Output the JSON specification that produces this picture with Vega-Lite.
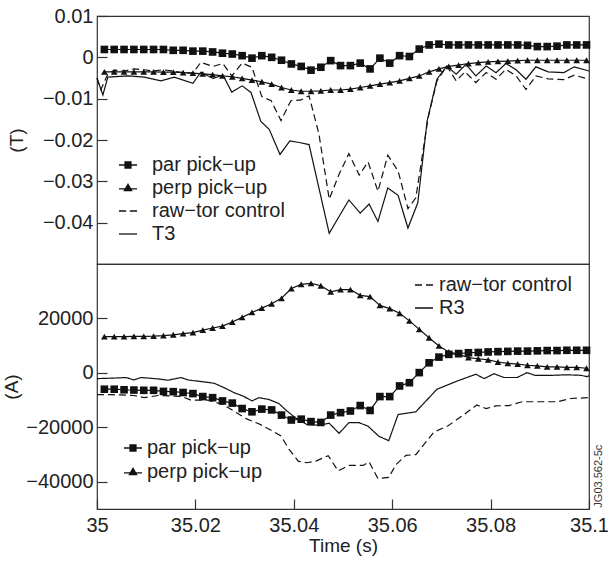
{
"$schema": "https://vega.github.io/schema/vega-lite/v6.json",
"autosize": {"type": "pad"},
"padding": {"left": 2, "top": 5, "right": 2, "bottom": 5},
"background": "white",
"spacing": 0,
"bounds": "flush",
"config": {
 "font": "Liberation Sans",
 "view": {"stroke": "#333", "strokeWidth": 1.2},
 "axis": {"domain": false, "grid": false, "tickSize": -10, "tickColor": "#333", "tickWidth": 1.2, "labelFont": "Liberation Sans", "labelFontSize": 20, "labelColor": "#222", "titleFont": "Liberation Sans", "titleFontSize": 19, "titleFontWeight": "normal", "titleColor": "#222", "labelPadding": 14, "labelFlush": false, "labelOverlap": false},
 "legend": {"labelFont": "Liberation Sans", "labelFontSize": 20, "labelColor": "#222", "symbolSize": 324, "rowPadding": 3, "labelOffset": 14, "padding": 0, "symbolStrokeWidth": 1.3, "symbolStrokeColor": "#111", "symbolOpacity": 1, "title": null}
},
"datasets": {
 "top": [
  {"s":"P","t":35.0015,"v":0.0019},{"s":"P","t":35.0035,"v":0.0019},{"s":"P","t":35.0055,"v":0.0019},{"s":"P","t":35.0075,"v":0.0019},{"s":"P","t":35.0095,"v":0.0019},{"s":"P","t":35.0115,"v":0.0019},{"s":"P","t":35.0135,"v":0.0019},{"s":"P","t":35.0155,"v":0.0017},{"s":"P","t":35.0175,"v":0.0017},{"s":"P","t":35.0195,"v":0.0015},
  {"s":"P","t":35.0215,"v":0.0015},{"s":"P","t":35.0235,"v":0.0013},{"s":"P","t":35.0255,"v":0.001},{"s":"P","t":35.0275,"v":0.0008},{"s":"P","t":35.0295,"v":0.0004},{"s":"P","t":35.0315,"v":-0.0002},{"s":"P","t":35.0335,"v":0.0004},{"s":"P","t":35.0355,"v":0.0},{"s":"P","t":35.0375,"v":-0.0007},{"s":"P","t":35.0395,"v":-0.0016},
  {"s":"P","t":35.0415,"v":-0.0022},{"s":"P","t":35.0435,"v":-0.0031},{"s":"P","t":35.0455,"v":-0.0024},{"s":"P","t":35.0475,"v":-0.0008},{"s":"P","t":35.0495,"v":-0.002},{"s":"P","t":35.0515,"v":-0.002},{"s":"P","t":35.0535,"v":-0.0014},{"s":"P","t":35.0555,"v":-0.0028},{"s":"P","t":35.0575,"v":-0.0002},{"s":"P","t":35.0595,"v":-0.0014},
  {"s":"P","t":35.0615,"v":0.0004},{"s":"P","t":35.0635,"v":0.0002},{"s":"P","t":35.0655,"v":0.002},{"s":"P","t":35.0675,"v":0.003},{"s":"P","t":35.0695,"v":0.0032},{"s":"P","t":35.0715,"v":0.003},{"s":"P","t":35.0735,"v":0.003},{"s":"P","t":35.0755,"v":0.003},{"s":"P","t":35.0775,"v":0.003},{"s":"P","t":35.0795,"v":0.003},
  {"s":"P","t":35.0815,"v":0.003},{"s":"P","t":35.0835,"v":0.003},{"s":"P","t":35.0855,"v":0.003},{"s":"P","t":35.0875,"v":0.0029},{"s":"P","t":35.0895,"v":0.0026},{"s":"P","t":35.0915,"v":0.0026},{"s":"P","t":35.0935,"v":0.0027},{"s":"P","t":35.0955,"v":0.003},{"s":"P","t":35.0975,"v":0.003},{"s":"P","t":35.0995,"v":0.003},
  {"s":"Q","t":35.0015,"v":-0.0035},{"s":"Q","t":35.0035,"v":-0.0035},{"s":"Q","t":35.0055,"v":-0.0035},{"s":"Q","t":35.0075,"v":-0.0035},{"s":"Q","t":35.0095,"v":-0.0035},{"s":"Q","t":35.0115,"v":-0.0035},{"s":"Q","t":35.0135,"v":-0.0036},{"s":"Q","t":35.0155,"v":-0.0036},{"s":"Q","t":35.0175,"v":-0.0037},{"s":"Q","t":35.0195,"v":-0.0038},
  {"s":"Q","t":35.0215,"v":-0.004},{"s":"Q","t":35.0235,"v":-0.0042},{"s":"Q","t":35.0255,"v":-0.0045},{"s":"Q","t":35.0275,"v":-0.0047},{"s":"Q","t":35.0295,"v":-0.0051},{"s":"Q","t":35.0315,"v":-0.0055},{"s":"Q","t":35.0335,"v":-0.0059},{"s":"Q","t":35.0355,"v":-0.0065},{"s":"Q","t":35.0375,"v":-0.0073},{"s":"Q","t":35.0395,"v":-0.0079},
  {"s":"Q","t":35.0415,"v":-0.0082},{"s":"Q","t":35.0435,"v":-0.0082},{"s":"Q","t":35.0455,"v":-0.0081},{"s":"Q","t":35.0475,"v":-0.0079},{"s":"Q","t":35.0495,"v":-0.0079},{"s":"Q","t":35.0515,"v":-0.0077},{"s":"Q","t":35.0535,"v":-0.0073},{"s":"Q","t":35.0555,"v":-0.0069},{"s":"Q","t":35.0575,"v":-0.0065},{"s":"Q","t":35.0595,"v":-0.0061},
  {"s":"Q","t":35.0615,"v":-0.0057},{"s":"Q","t":35.0635,"v":-0.0051},{"s":"Q","t":35.0655,"v":-0.0045},{"s":"Q","t":35.0675,"v":-0.0035},{"s":"Q","t":35.0695,"v":-0.0028},{"s":"Q","t":35.0715,"v":-0.0022},{"s":"Q","t":35.0735,"v":-0.0019},{"s":"Q","t":35.0755,"v":-0.0015},{"s":"Q","t":35.0775,"v":-0.0013},{"s":"Q","t":35.0795,"v":-0.0011},
  {"s":"Q","t":35.0815,"v":-0.001},{"s":"Q","t":35.0835,"v":-0.0009},{"s":"Q","t":35.0855,"v":-0.0008},{"s":"Q","t":35.0875,"v":-0.0007},{"s":"Q","t":35.0895,"v":-0.0007},{"s":"Q","t":35.0915,"v":-0.0007},{"s":"Q","t":35.0935,"v":-0.0007},{"s":"Q","t":35.0955,"v":-0.0007},{"s":"Q","t":35.0975,"v":-0.0007},{"s":"Q","t":35.0995,"v":-0.0007},
  {"s":"R","t":35.0,"v":-0.005},{"s":"R","t":35.0008,"v":-0.0078},{"s":"R","t":35.0022,"v":-0.004},{"s":"R","t":35.0035,"v":-0.0031},{"s":"R","t":35.0055,"v":-0.0033},{"s":"R","t":35.0075,"v":-0.0028},{"s":"R","t":35.0096,"v":-0.003},{"s":"R","t":35.0114,"v":-0.0033},{"s":"R","t":35.0134,"v":-0.003},{"s":"R","t":35.0154,"v":-0.0033},
  {"s":"R","t":35.0175,"v":-0.0037},{"s":"R","t":35.0195,"v":-0.0038},{"s":"R","t":35.0211,"v":-0.0012},{"s":"R","t":35.0236,"v":-0.0022},{"s":"R","t":35.0256,"v":-0.0015},{"s":"R","t":35.0274,"v":-0.0045},{"s":"R","t":35.0295,"v":-0.0014},{"s":"R","t":35.0315,"v":-0.0024},{"s":"R","t":35.0335,"v":-0.0095},{"s":"R","t":35.0354,"v":-0.0105},
  {"s":"R","t":35.0374,"v":-0.0153},{"s":"R","t":35.0394,"v":-0.0105},{"s":"R","t":35.0415,"v":-0.0103},{"s":"R","t":35.0431,"v":-0.0093},{"s":"R","t":35.0451,"v":-0.0185},{"s":"R","t":35.0472,"v":-0.0343},{"s":"R","t":35.0492,"v":-0.0283},{"s":"R","t":35.0512,"v":-0.0233},{"s":"R","t":35.0533,"v":-0.0285},{"s":"R","t":35.0551,"v":-0.0253},
  {"s":"R","t":35.0571,"v":-0.0324},{"s":"R","t":35.0591,"v":-0.0237},{"s":"R","t":35.0612,"v":-0.0275},{"s":"R","t":35.0632,"v":-0.0366},{"s":"R","t":35.0648,"v":-0.034},{"s":"R","t":35.0673,"v":-0.0146},{"s":"R","t":35.0691,"v":-0.0057},{"s":"R","t":35.0711,"v":-0.0021},{"s":"R","t":35.073,"v":-0.0057},{"s":"R","t":35.0748,"v":-0.0035},
  {"s":"R","t":35.077,"v":-0.0061},{"s":"R","t":35.0791,"v":-0.0037},{"s":"R","t":35.0811,"v":-0.0053},{"s":"R","t":35.0831,"v":-0.0029},{"s":"R","t":35.0852,"v":-0.0045},{"s":"R","t":35.0872,"v":-0.0078},{"s":"R","t":35.0892,"v":-0.0045},{"s":"R","t":35.0917,"v":-0.0052},{"s":"R","t":35.0949,"v":-0.0054},{"s":"R","t":35.097,"v":-0.0043},{"s":"R","t":35.1,"v":-0.0053},
  {"s":"T","t":35.0,"v":-0.0051},{"s":"T","t":35.0012,"v":-0.0091},{"s":"T","t":35.0022,"v":-0.0048},{"s":"T","t":35.0063,"v":-0.0045},{"s":"T","t":35.0096,"v":-0.0048},{"s":"T","t":35.013,"v":-0.0057},{"s":"T","t":35.0157,"v":-0.0048},{"s":"T","t":35.0195,"v":-0.0063},{"s":"T","t":35.0211,"v":-0.0036},{"s":"T","t":35.0236,"v":-0.0051},
  {"s":"T","t":35.0256,"v":-0.0043},{"s":"T","t":35.0274,"v":-0.0084},{"s":"T","t":35.0295,"v":-0.0069},{"s":"T","t":35.0313,"v":-0.0085},{"s":"T","t":35.0333,"v":-0.0155},{"s":"T","t":35.035,"v":-0.0174},{"s":"T","t":35.0372,"v":-0.0235},{"s":"T","t":35.0392,"v":-0.0202},{"s":"T","t":35.0411,"v":-0.0206},{"s":"T","t":35.0431,"v":-0.0211},
  {"s":"T","t":35.0451,"v":-0.0316},{"s":"T","t":35.0472,"v":-0.0426},{"s":"T","t":35.0492,"v":-0.0385},{"s":"T","t":35.0512,"v":-0.0345},{"s":"T","t":35.0535,"v":-0.0377},{"s":"T","t":35.0553,"v":-0.0355},{"s":"T","t":35.0571,"v":-0.0397},{"s":"T","t":35.0591,"v":-0.0316},{"s":"T","t":35.0612,"v":-0.0334},{"s":"T","t":35.0632,"v":-0.0413},
  {"s":"T","t":35.0652,"v":-0.0352},{"s":"T","t":35.0671,"v":-0.0154},{"s":"T","t":35.0691,"v":-0.0053},{"s":"T","t":35.0711,"v":-0.0021},{"s":"T","t":35.073,"v":-0.0041},{"s":"T","t":35.075,"v":-0.0017},{"s":"T","t":35.077,"v":-0.0045},{"s":"T","t":35.0791,"v":-0.0021},{"s":"T","t":35.0811,"v":-0.0037},{"s":"T","t":35.0831,"v":-0.0015},
  {"s":"T","t":35.0852,"v":-0.003},{"s":"T","t":35.0872,"v":-0.0053},{"s":"T","t":35.0892,"v":-0.0023},{"s":"T","t":35.0917,"v":-0.0035},{"s":"T","t":35.0949,"v":-0.0037},{"s":"T","t":35.097,"v":-0.0023},{"s":"T","t":35.1,"v":-0.0033}
 ],
 "bot": [
  {"s":"P","t":35.0015,"v":-6000},{"s":"P","t":35.0035,"v":-6000},{"s":"P","t":35.0055,"v":-6200},{"s":"P","t":35.0075,"v":-6300},{"s":"P","t":35.0095,"v":-6400},{"s":"P","t":35.0115,"v":-6400},{"s":"P","t":35.0135,"v":-6800},{"s":"P","t":35.0155,"v":-6900},{"s":"P","t":35.0175,"v":-7200},{"s":"P","t":35.0195,"v":-7600},
  {"s":"P","t":35.0215,"v":-8700},{"s":"P","t":35.0235,"v":-9100},{"s":"P","t":35.0255,"v":-10300},{"s":"P","t":35.0275,"v":-11100},{"s":"P","t":35.0295,"v":-13100},{"s":"P","t":35.0315,"v":-14300},{"s":"P","t":35.0335,"v":-13300},{"s":"P","t":35.0355,"v":-13600},{"s":"P","t":35.0375,"v":-15500},{"s":"P","t":35.0395,"v":-17300},
  {"s":"P","t":35.0415,"v":-17000},{"s":"P","t":35.0435,"v":-17900},{"s":"P","t":35.0455,"v":-18200},{"s":"P","t":35.0475,"v":-15500},{"s":"P","t":35.0495,"v":-14600},{"s":"P","t":35.0515,"v":-14000},{"s":"P","t":35.0535,"v":-12000},{"s":"P","t":35.0555,"v":-13800},{"s":"P","t":35.0575,"v":-8700},{"s":"P","t":35.0595,"v":-8700},
  {"s":"P","t":35.0615,"v":-4800},{"s":"P","t":35.0635,"v":-3600},{"s":"P","t":35.0655,"v":100},{"s":"P","t":35.0675,"v":3700},{"s":"P","t":35.0695,"v":5800},{"s":"P","t":35.0715,"v":6800},{"s":"P","t":35.0735,"v":7100},{"s":"P","t":35.0755,"v":7400},{"s":"P","t":35.0775,"v":7500},{"s":"P","t":35.0795,"v":7700},
  {"s":"P","t":35.0815,"v":7800},{"s":"P","t":35.0835,"v":7900},{"s":"P","t":35.0855,"v":8000},{"s":"P","t":35.0875,"v":8000},{"s":"P","t":35.0895,"v":8100},{"s":"P","t":35.0915,"v":8200},{"s":"P","t":35.0935,"v":8200},{"s":"P","t":35.0955,"v":8300},{"s":"P","t":35.0975,"v":8300},{"s":"P","t":35.0995,"v":8300},
  {"s":"Q","t":35.0015,"v":13300},{"s":"Q","t":35.0035,"v":13300},{"s":"Q","t":35.0055,"v":13300},{"s":"Q","t":35.0075,"v":13400},{"s":"Q","t":35.0095,"v":13400},{"s":"Q","t":35.0115,"v":13500},{"s":"Q","t":35.0135,"v":13700},{"s":"Q","t":35.0155,"v":14000},{"s":"Q","t":35.0175,"v":14400},{"s":"Q","t":35.0195,"v":14800},
  {"s":"Q","t":35.0215,"v":15700},{"s":"Q","t":35.0235,"v":16500},{"s":"Q","t":35.0255,"v":17200},{"s":"Q","t":35.0275,"v":18700},{"s":"Q","t":35.0295,"v":20400},{"s":"Q","t":35.0315,"v":22200},{"s":"Q","t":35.0335,"v":23800},{"s":"Q","t":35.0355,"v":25400},{"s":"Q","t":35.0375,"v":27400},{"s":"Q","t":35.0395,"v":31000},
  {"s":"Q","t":35.0415,"v":32500},{"s":"Q","t":35.0435,"v":32900},{"s":"Q","t":35.0455,"v":32000},{"s":"Q","t":35.0475,"v":29800},{"s":"Q","t":35.0495,"v":30600},{"s":"Q","t":35.0515,"v":30600},{"s":"Q","t":35.0535,"v":28500},{"s":"Q","t":35.0555,"v":28000},{"s":"Q","t":35.0575,"v":24800},{"s":"Q","t":35.0595,"v":23600},
  {"s":"Q","t":35.0615,"v":21900},{"s":"Q","t":35.0635,"v":19100},{"s":"Q","t":35.0655,"v":16000},{"s":"Q","t":35.0675,"v":12900},{"s":"Q","t":35.0695,"v":9900},{"s":"Q","t":35.0715,"v":7700},{"s":"Q","t":35.0735,"v":6800},{"s":"Q","t":35.0755,"v":5600},{"s":"Q","t":35.0775,"v":5200},{"s":"Q","t":35.0795,"v":4800},
  {"s":"Q","t":35.0815,"v":4000},{"s":"Q","t":35.0835,"v":3500},{"s":"Q","t":35.0855,"v":3200},{"s":"Q","t":35.0875,"v":2800},{"s":"Q","t":35.0895,"v":2600},{"s":"Q","t":35.0915,"v":2200},{"s":"Q","t":35.0935,"v":2200},{"s":"Q","t":35.0955,"v":2000},{"s":"Q","t":35.0975,"v":2000},{"s":"Q","t":35.0995,"v":1700},
  {"s":"R","t":35.0,"v":-8000},{"s":"R","t":35.0028,"v":-8000},{"s":"R","t":35.0075,"v":-8300},{"s":"R","t":35.0096,"v":-9100},{"s":"R","t":35.0124,"v":-8300},{"s":"R","t":35.0171,"v":-8600},{"s":"R","t":35.0191,"v":-10000},{"s":"R","t":35.0226,"v":-10000},{"s":"R","t":35.0256,"v":-11600},{"s":"R","t":35.0278,"v":-14000},
  {"s":"R","t":35.0303,"v":-16800},{"s":"R","t":35.0329,"v":-18700},{"s":"R","t":35.035,"v":-20700},{"s":"R","t":35.0374,"v":-23200},{"s":"R","t":35.039,"v":-28000},{"s":"R","t":35.0409,"v":-32400},{"s":"R","t":35.0427,"v":-33000},{"s":"R","t":35.0445,"v":-32400},{"s":"R","t":35.047,"v":-30400},{"s":"R","t":35.049,"v":-36000},
  {"s":"R","t":35.0512,"v":-34000},{"s":"R","t":35.0541,"v":-34000},{"s":"R","t":35.0553,"v":-32700},{"s":"R","t":35.0571,"v":-38800},{"s":"R","t":35.0593,"v":-38400},{"s":"R","t":35.0608,"v":-33600},{"s":"R","t":35.0628,"v":-30300},{"s":"R","t":35.0648,"v":-30000},{"s":"R","t":35.0685,"v":-21700},{"s":"R","t":35.0713,"v":-19500},
  {"s":"R","t":35.0746,"v":-15300},{"s":"R","t":35.0772,"v":-11800},{"s":"R","t":35.0791,"v":-13100},{"s":"R","t":35.0811,"v":-12100},{"s":"R","t":35.0837,"v":-12000},{"s":"R","t":35.0864,"v":-10600},{"s":"R","t":35.0937,"v":-10600},{"s":"R","t":35.0963,"v":-9400},{"s":"R","t":35.1,"v":-9100},
  {"s":"T","t":35.0,"v":-2100},{"s":"T","t":35.0035,"v":-1900},{"s":"T","t":35.0059,"v":-1700},{"s":"T","t":35.0075,"v":-2600},{"s":"T","t":35.0089,"v":-1700},{"s":"T","t":35.0124,"v":-2200},{"s":"T","t":35.0144,"v":-2700},{"s":"T","t":35.0171,"v":-1700},{"s":"T","t":35.0185,"v":-2600},{"s":"T","t":35.0217,"v":-3300},
  {"s":"T","t":35.0238,"v":-3800},{"s":"T","t":35.0258,"v":-5400},{"s":"T","t":35.0278,"v":-7200},{"s":"T","t":35.0299,"v":-8700},{"s":"T","t":35.0315,"v":-10300},{"s":"T","t":35.0329,"v":-9100},{"s":"T","t":35.035,"v":-9800},{"s":"T","t":35.037,"v":-11300},{"s":"T","t":35.0386,"v":-14000},{"s":"T","t":35.0407,"v":-17000},
  {"s":"T","t":35.0427,"v":-19000},{"s":"T","t":35.0451,"v":-19200},{"s":"T","t":35.0472,"v":-18500},{"s":"T","t":35.0492,"v":-22200},{"s":"T","t":35.0512,"v":-18300},{"s":"T","t":35.0533,"v":-18300},{"s":"T","t":35.0551,"v":-19600},{"s":"T","t":35.0573,"v":-23300},{"s":"T","t":35.0593,"v":-24900},{"s":"T","t":35.0612,"v":-15300},
  {"s":"T","t":35.0648,"v":-14300},{"s":"T","t":35.0691,"v":-6000},{"s":"T","t":35.0732,"v":-3000},{"s":"T","t":35.077,"v":-500},{"s":"T","t":35.0787,"v":-2100},{"s":"T","t":35.0807,"v":-300},{"s":"T","t":35.0827,"v":-1700},{"s":"T","t":35.0854,"v":-1700},{"s":"T","t":35.0874,"v":100},{"s":"T","t":35.089,"v":-900},
  {"s":"T","t":35.0923,"v":-900},{"s":"T","t":35.0955,"v":-700},{"s":"T","t":35.0984,"v":-900},{"s":"T","t":35.0996,"v":-1400},{"s":"T","t":35.1,"v":-1000}
 ]
},
"vconcat": [
 {
  "width": 492, "height": 248,
  "data": {"name": "top"},
  "encoding": {
   "x": {"field": "t", "type": "quantitative", "scale": {"domain": [35, 35.1], "nice": false, "zero": false}, "axis": null},
   "y": {"field": "v", "type": "quantitative", "scale": {"domain": [-0.05, 0.01], "nice": false, "zero": false}, "axis": {"values": [-0.04, -0.03, -0.02, -0.01, 0, 0.01], "format": "~g", "title": "(T)", "titlePadding": 16}}
  },
  "layer": [
   {"transform": [{"filter": "datum.s !== 'R'"}], "mark": {"type": "line", "strokeWidth": 1.2, "color": "#111"}, "encoding": {"detail": {"field": "s"}}},
   {"transform": [{"filter": "datum.s === 'R'"}], "mark": {"type": "line", "strokeWidth": 1.2, "color": "#111", "strokeDash": [7, 4]}},
   {"transform": [{"filter": "datum.s === 'P'"}], "mark": {"type": "point", "shape": "square", "filled": true, "size": 58, "color": "#111", "opacity": 1}},
   {"transform": [{"filter": "datum.s === 'Q'"}], "mark": {"type": "point", "shape": "triangle-up", "filled": true, "size": 45, "color": "#111", "opacity": 1}},
   {"transform": [{"filter": "datum.t < 0"}], "mark": {"type": "point", "filled": false, "color": "#111", "strokeWidth": 1.3, "opacity": 1},
    "encoding": {"shape": {"field": "s", "type": "nominal",
      "scale": {"domain": ["P", "Q", "R", "T"], "range": ["M-1,0H1M-0.4,-0.35H0.4M-0.4,-0.21H0.4M-0.4,-0.07H0.4M-0.4,0.07H0.4M-0.4,0.21H0.4M-0.4,0.35H0.4", "M-1,0.1H1M-0.4,0.28L0,-0.42L0.4,0.28ZM-0.39,0.26H0.39M-0.31,0.12H0.31M-0.23,-0.02H0.23M-0.15,-0.16H0.15M-0.07,-0.3H0.07", "M-1,0H-0.2M0.2,0H1", "M-1,0H1"]},
      "legend": {"orient": "none", "legendX": 21, "legendY": 139, "rowPadding": 3, "labelOffset": 14, "labelExpr": "{'P': 'par pick−up', 'Q': 'perp pick−up', 'R': 'raw−tor control', 'T': 'T3'}[datum.label]",
        "symbolStrokeColor": "#111", "symbolStrokeWidth": 1.3}}}}
  ]
 },
 {
  "width": 492, "height": 245,
  "data": {"name": "bot"},
  "layer": [
   {"transform": [{"filter": "datum.s === 'P' || datum.s === 'Q'"}], "mark": {"type": "line", "strokeWidth": 1.2, "color": "#111"},
    "encoding": {
     "x": {"field": "t", "type": "quantitative", "scale": {"domain": [35, 35.1], "nice": false, "zero": false}, "axis": {"values": [35, 35.02, 35.04, 35.06, 35.08, 35.1], "format": "~g", "title": "Time (s)", "labelPadding": 16, "titlePadding": 1}},
     "y": {"field": "v", "type": "quantitative", "scale": {"domain": [-50000, 40000], "nice": false, "zero": false}, "axis": {"values": [-40000, -20000, 0, 20000], "format": "d", "title": "(A)", "titlePadding": 4}},
     "detail": {"field": "s"}}},
   {"transform": [{"filter": "datum.s === 'R' || datum.s === 'T'"}], "mark": {"type": "line", "strokeWidth": 1.2, "color": "#111"},
    "encoding": {
     "x": {"field": "t", "type": "quantitative"},
     "y": {"field": "v", "type": "quantitative"},
     "strokeDash": {"field": "s", "type": "nominal", "scale": {"domain": ["R", "T"], "range": [[7, 4], [1, 0]]},
      "legend": {"orient": "none", "legendX": 317, "legendY": 11, "rowPadding": 3, "labelOffset": 5, "labelExpr": "{'R': 'raw−tor control', 'T': 'R3'}[datum.label]",
        "symbolStrokeColor": "#111", "symbolStrokeWidth": 1.3}}}},
   {"transform": [{"filter": "datum.s === 'P'"}], "mark": {"type": "point", "shape": "square", "filled": true, "size": 58, "color": "#111", "opacity": 1},
    "encoding": {"x": {"field": "t", "type": "quantitative"}, "y": {"field": "v", "type": "quantitative"}}},
   {"transform": [{"filter": "datum.s === 'Q'"}], "mark": {"type": "point", "shape": "triangle-up", "filled": true, "size": 45, "color": "#111", "opacity": 1},
    "encoding": {"x": {"field": "t", "type": "quantitative"}, "y": {"field": "v", "type": "quantitative"}}},
   {"transform": [{"filter": "datum.t < 0"}], "mark": {"type": "point", "filled": false, "color": "#111", "strokeWidth": 1.3, "opacity": 1},
    "encoding": {"x": {"field": "t", "type": "quantitative"}, "y": {"field": "v", "type": "quantitative"},
     "shape": {"field": "s", "type": "nominal",
      "scale": {"domain": ["P", "Q"], "range": ["M-1,0H1M-0.4,-0.35H0.4M-0.4,-0.21H0.4M-0.4,-0.07H0.4M-0.4,0.07H0.4M-0.4,0.21H0.4M-0.4,0.35H0.4", "M-1,0.1H1M-0.4,0.28L0,-0.42L0.4,0.28ZM-0.39,0.26H0.39M-0.31,0.12H0.31M-0.23,-0.02H0.23M-0.15,-0.16H0.15M-0.07,-0.3H0.07"]},
      "legend": {"orient": "none", "legendX": 26, "legendY": 174, "rowPadding": 4, "labelOffset": 4, "labelExpr": "{'P': 'par pick−up', 'Q': 'perp pick−up'}[datum.label]",
        "symbolStrokeColor": "#111", "symbolStrokeWidth": 1.3}}}},
   {"data": {"values": [{"label": "JG03.562-5c"}]}, "mark": {"type": "text", "angle": 270, "align": "left", "baseline": "middle", "dy": 10, "fontSize": 11, "color": "#333", "font": "Liberation Sans"},
    "encoding": {"x": {"datum": 35.1, "type": "quantitative"}, "y": {"datum": -49500, "type": "quantitative"}, "text": {"field": "label"}}}
  ]
 }
],
"resolve": {"scale": {"shape": "independent", "strokeDash": "independent"}, "legend": {"shape": "independent", "strokeDash": "independent"}}
}
